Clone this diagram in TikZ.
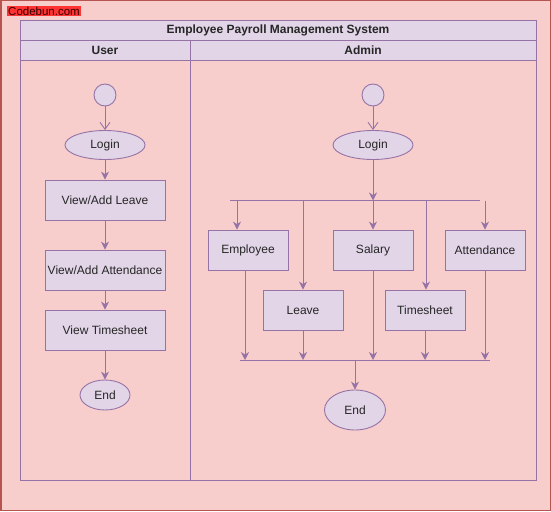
\documentclass[tikz,border=0pt]{standalone}
\usepackage{fontspec}
\setmainfont{Liberation Sans}
\usetikzlibrary{arrows.meta,shapes.geometric}
\definecolor{bgpink}{HTML}{F8CECC}
\definecolor{bgred}{HTML}{B85450}
\definecolor{pfill}{HTML}{E1D5E7}
\definecolor{pline}{HTML}{9673A6}
\definecolor{lblred}{HTML}{FF3333}
\tikzset{
  every node/.style={font=\fontsize{12}{14}\selectfont, text=black!85},
  box/.style={draw=pline, fill=pfill, line width=0.9pt, minimum width=80pt, minimum height=40pt, inner sep=0pt},
  oval/.style={ellipse, draw=pline, fill=pfill, line width=0.9pt, inner sep=0pt},
  startc/.style={circle, draw=pline, fill=pfill, line width=0.9pt, minimum size=22pt, inner sep=0pt},
  conn/.style={draw=pline, line width=0.9pt, -{Stealth[length=8pt,width=8pt]}},
  plain/.style={draw=pline, line width=0.9pt},
  hdr/.style={font=\fontsize{12}{14}\selectfont\bfseries}
}
\begin{document}
\begin{tikzpicture}[x=1pt,y=-1pt]
\useasboundingbox (0,0) rectangle (551,511);
\fill[bgpink] (0,0) rectangle (551,511);
\draw[bgred, line width=1.5pt] (0.75,0.75) rectangle (550.25,510.25);
% label
\node[fill=lblred, inner sep=1pt, anchor=west, text=black!80!red, font=\fontsize{11.5}{13}\selectfont] (lbl) at (7,11) {Codebun.com};
% pool
\draw[pline, fill=pfill, line width=0.9pt] (20,20) rectangle (536,60);
\draw[pline, line width=0.9pt] (20,40) -- (536,40);
\draw[pline, line width=0.9pt] (20,60) rectangle (536,480);
\draw[pline, line width=0.9pt] (190,40) -- (190,480);
\node[hdr] (title) at (278,30) {Employee Payroll Management System};
\node[hdr] (user) at (105,50) {User};
\node[hdr] (admin) at (363,50) {Admin};
% user lane
\node[startc] (us) at (105,95) {};
\node[oval, minimum width=80pt, minimum height=29pt] (ulogin) at (105,145) {Login};
\node[box, minimum width=120pt] (uleave) at (105,200) {View/Add Leave};
\node[box, minimum width=120pt] (uatt) at (105,270) {View/Add Attendance};
\node[box, minimum width=120pt] (uts) at (105,330) {View Timesheet};
\node[oval, minimum width=50pt, minimum height=30pt] (uend) at (105,395) {End};
\draw[pline, line width=0.9pt, -{Straight Barb[length=7pt,width=10pt]}] (us) -- (ulogin);
\draw[conn] (ulogin) -- (uleave);
\draw[conn] (uleave) -- (uatt);
\draw[conn] (uatt) -- (uts);
\draw[conn] (uts) -- (uend);
% admin lane
\node[startc] (as) at (373,95) {};
\node[oval, minimum width=80pt, minimum height=29pt] (alogin) at (373,145) {Login};
\draw[pline, line width=0.9pt, -{Straight Barb[length=7pt,width=10pt]}] (as) -- (alogin);
\coordinate (b1l) at (230,200.5);
\coordinate (b1r) at (480,200.5);
\draw[plain] (b1l) -- (b1r);
\coordinate (b1c) at (373,200.5);
\draw[conn] (alogin) -- (b1c);
\node[box] (emp) at (248,250) {Employee};
\node[box] (sal) at (373,250) {Salary};
\node[box] (att) at (485,250) {Attendance};
\node[box] (lv) at (303,310) {Leave};
\node[box] (ts) at (425,310) {Timesheet};
\coordinate (t1) at (237,200.5);
\coordinate (t2) at (303,200.5);
\coordinate (t4) at (426,200.5);
\coordinate (t5) at (485,200.5);
\draw[conn] (t1) -- (t1 |- emp.north);
\draw[conn] (t2) -- (lv.north);
\draw[conn] (b1c) -- (sal.north);
\draw[conn] (t4) -- (t4 |- ts.north);
\draw[conn] (t5) -- (att.north);
\coordinate (b2l) at (240,360);
\coordinate (b2r) at (490,360);
\draw[plain] (b2l) -- (b2r);
\coordinate (e1) at (245,270);
\draw[conn] (e1) -- (e1 |- b2l);
\draw[conn] (lv.south) -- (lv.south |- b2l);
\draw[conn] (sal.south) -- (sal.south |- b2l);
\draw[conn] (ts.south) -- (ts.south |- b2l);
\draw[conn] (att.south) -- (att.south |- b2l);
\node[oval, minimum width=61pt, minimum height=40pt] (aend) at (355,410) {End};
\coordinate (b2c) at (355,360);
\draw[conn] (b2c) -- (aend);
\end{tikzpicture}
\end{document}
